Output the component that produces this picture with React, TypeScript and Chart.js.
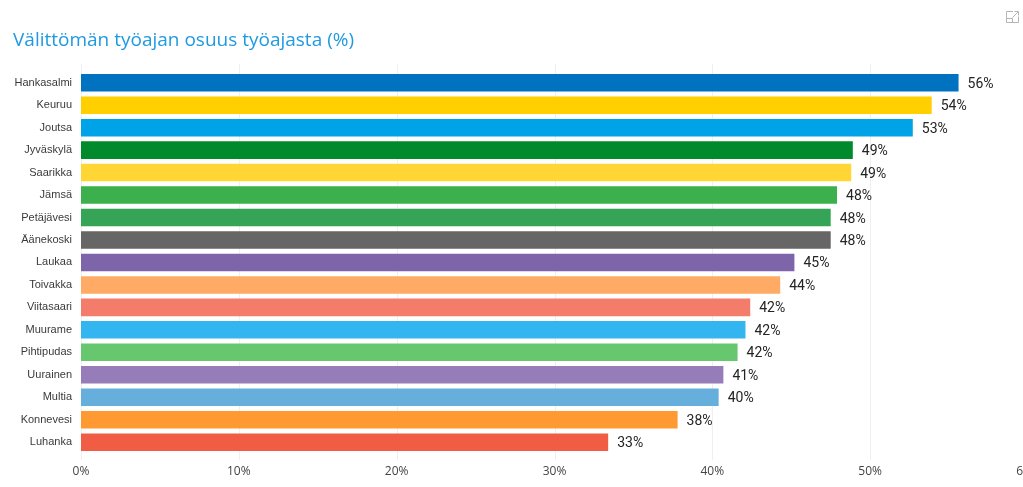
import React, { useEffect, useRef } from "react";
import { Chart, registerables } from "chart.js";

Chart.register(...registerables);

const titleText = "Välittömän työajan osuus työajasta (%)";
const municipalities = ["Hankasalmi", "Keuruu", "Joutsa", "Jyväskylä", "Saarikka", "Jämsä", "Petäjävesi", "Äänekoski", "Laukaa", "Toivakka", "Viitasaari", "Muurame", "Pihtipudas", "Uurainen", "Multia", "Konnevesi", "Luhanka"];
const shares = [55.6, 53.9, 52.7, 48.9, 48.8, 47.9, 47.5, 47.5, 45.2, 44.3, 42.4, 42.1, 41.6, 40.7, 40.4, 37.8, 33.4];
const shareLabels = ["56%", "54%", "53%", "49%", "49%", "48%", "48%", "48%", "45%", "44%", "42%", "42%", "42%", "41%", "40%", "38%", "33%"];
const barColors = ["#0072c0", "#ffcf00", "#00a2e8", "#008a2c", "#ffd633", "#3cb04c", "#36a457", "#666666", "#7e64a8", "#ffab66", "#f47c6a", "#33b5ef", "#66c76f", "#967dba", "#66aedb", "#ff9a33", "#f05c44"];

const gridAndLabels = {
  id: "gridAndLabels",
  beforeDatasetsDraw(chart: any) {
    const { ctx, scales } = chart;
    ctx.save();
    ctx.strokeStyle = "#efefef";
    ctx.lineWidth = 1;
    scales.x.ticks.forEach((t: any) => {
      const x = Math.round(scales.x.getPixelForValue(t.value)) + 0.5;
      ctx.beginPath();
      ctx.moveTo(x, 64);
      ctx.lineTo(x, 460);
      ctx.stroke();
    });
    ctx.restore();
  },
  afterDatasetsDraw(chart: any) {
    const { ctx } = chart;
    const meta = chart.getDatasetMeta(0);
    ctx.save();
    ctx.font = "14px Roboto";
    ctx.fillStyle = "#252423";
    ctx.textAlign = "left";
    ctx.textBaseline = "middle";
    meta.data.forEach((bar: any, i: number) => {
      ctx.fillText(shareLabels[i], bar.x + 9, bar.y + 1.5);
    });
    ctx.restore();
  },
};

export default function App() {
  const ref = useRef<HTMLCanvasElement>(null);
  useEffect(() => {
    const chart = new Chart(ref.current as HTMLCanvasElement, {
      type: "bar",
      data: {
        labels: municipalities,
        datasets: [{ data: shares, backgroundColor: barColors, barPercentage: 0.78, categoryPercentage: 1 }],
      },
      options: {
        indexAxis: "y",
        animation: false,
        responsive: false,
        devicePixelRatio: 1,
        layout: { padding: { top: 71.5, right: 32, bottom: 0, left: 0 } },
        plugins: { legend: { display: false }, tooltip: { enabled: false } },
        scales: {
          x: {
            min: 0,
            max: 60,
            grid: { display: false, drawTicks: false },
            border: { display: false },
            afterFit: (s: any) => { s.height = 33.6; },
            ticks: {
              stepSize: 10,
              maxRotation: 0,
              padding: 11,
              color: "#444444",
              font: { family: "'Open Sans'", size: 12 },
              callback: (v: any) => v + "%",
            },
          },
          y: {
            grid: { display: false, drawTicks: false },
            border: { display: false },
            afterFit: (s: any) => { s.width = 81; },
            ticks: {
              padding: 9,
              autoSkip: false,
              color: "#3a3a3a",
              font: { family: "'Liberation Sans'", size: 11 },
            },
          },
        },
      },
      plugins: [gridAndLabels],
    } as any);
    return () => chart.destroy();
  }, []);

  return (
    <div style={{ position: "fixed", left: 0, top: 0, width: 1023, height: 487, overflow: "hidden", background: "#fff" }}>
      <canvas ref={ref} width={1060} height={487} style={{ position: "absolute", left: 0, top: 0 }} />
      <div style={{ position: "absolute", left: 13, top: 25, font: "19px/28px 'Open Sans'", color: "#1f9ae0", whiteSpace: "nowrap" }}>{titleText}</div>
      <svg width="13" height="12" viewBox="0 0 13 12" style={{ position: "absolute", left: 1006, top: 11 }} fill="none" stroke="#b5b5b5" strokeWidth="1">
        <path d="M7 0.5H0.5V11.5H12.5V5.5" />
        <path d="M0.5 7.5H6.5V11.5" />
        <path d="M6.5 6.5L12 1M8.5 0.5H12.5V4.5" />
      </svg>
    </div>
  );
}
